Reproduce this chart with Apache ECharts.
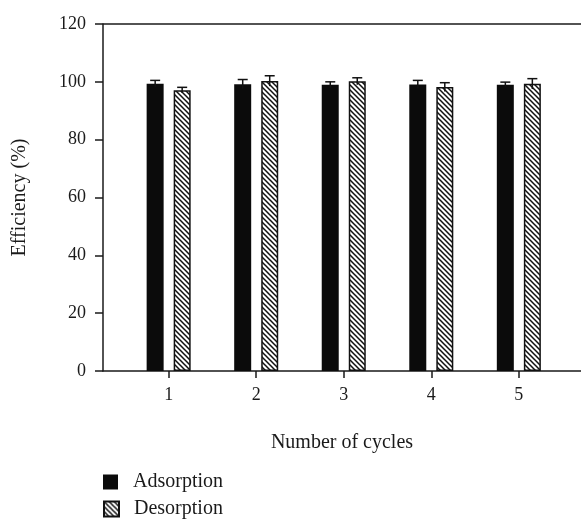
<!DOCTYPE html>
<html>
<head>
<meta charset="utf-8">
<script src="https://cdn.jsdelivr.net/npm/echarts@6/dist/echarts.min.js"></script>
<style>
  html, body { margin: 0; padding: 0; background: #fff; }
  #chart { width: 581px; height: 519px; }
</style>
</head>
<body>
<div id="chart"></div>
<script>
  // data
  var cycles = [1, 2, 3, 4, 5]
  var adsorption = [99.3, 99.2, 99.0, 99.1, 99.0]
  var adsorptionErr = [1.2, 1.6, 1.0, 1.4, 0.9]
  var desorption = [97.1, 100.3, 100.2, 98.2, 99.3]
  var desorptionErr = [1.0, 1.8, 1.2, 1.5, 1.8]
  var yTicks = [0, 20, 40, 60, 80, 100, 120]

  var serif = '"Liberation Serif", "DejaVu Serif", serif'
  var ink = '#1a1a1a'

  // diagonal hatch for the desorption bars
  function hatch() {
    var s = 5
    var c = document.createElement('canvas')
    c.width = s
    c.height = s
    var ctx = c.getContext('2d')
    ctx.fillStyle = '#fff'
    ctx.fillRect(0, 0, s, s)
    ctx.strokeStyle = '#111'
    ctx.lineWidth = 1.5
    ctx.beginPath()
    ctx.moveTo(-1, -1); ctx.lineTo(s + 1, s + 1)
    ctx.moveTo(-1, s - 1); ctx.lineTo(1, s + 1)
    ctx.moveTo(s - 1, -1); ctx.lineTo(s + 1, 1)
    ctx.stroke()
    return c
  }

  function errorSeries(values, errs, shift) {
    return {
      type: 'custom',
      silent: true,
      z: 5,
      data: cycles.map(function (c, i) { return [c, values[i], errs[i]] }),
      renderItem: function (params, api) {
        var x = api.value(0), v = api.value(1), e = api.value(2)
        var hi = api.coord([x, v + e])
        var lo = api.coord([x, v - e])
        var px = hi[0] + shift
        var style = { stroke: '#111', lineWidth: 1.5, fill: null }
        return {
          type: 'group',
          children: [
            { type: 'line', shape: { x1: px, y1: hi[1], x2: px, y2: lo[1] }, style: style },
            { type: 'line', shape: { x1: px - 5, y1: hi[1], x2: px + 5, y2: hi[1] }, style: style }
          ]
        }
      }
    }
  }

  var chart = echarts.init(document.getElementById('chart'))
  var hatchFill = { image: hatch(), repeat: 'repeat' }

  var legendBase = {
    orient: 'vertical',
    left: 103,
    padding: 0,
    itemWidth: 15,
    itemHeight: 15,
    icon: 'rect',
    textStyle: { fontFamily: serif, fontSize: 20, color: ink, padding: [0, 0, 0, 10] }
  }

  chart.setOption({
    animation: false,
    grid: { left: 103, right: 0, top: 24, bottom: 148 },
    legend: [
      Object.assign({}, legendBase, { top: 472, data: ['Adsorption'] }),
      Object.assign({}, legendBase, { top: 499, data: ['Desorption'] })
    ],
    xAxis: {
      type: 'value',
      min: 0.25,
      max: 5.71,
      name: 'Number of cycles',
      nameLocation: 'middle',
      nameGap: 62,
      nameTextStyle: { fontFamily: serif, fontSize: 20, color: ink },
      axisLine: { show: true, onZero: false, lineStyle: { color: ink, width: 1.5 } },
      axisTick: { show: true, length: 7, customValues: cycles, lineStyle: { color: ink, width: 1.5 } },
      axisLabel: { customValues: cycles, margin: 15, fontFamily: serif, fontSize: 18, color: ink },
      splitLine: { show: false }
    },
    yAxis: {
      type: 'value',
      min: 0,
      max: 120,
      interval: 20,
      name: 'Efficiency (%)',
      nameLocation: 'middle',
      nameGap: 73,
      nameTextStyle: { fontFamily: serif, fontSize: 20, color: ink },
      axisLine: { show: true, lineStyle: { color: ink, width: 1.5 } },
      axisTick: { show: true, length: 8, lineStyle: { color: ink, width: 1.5 } },
      axisLabel: {
        margin: 17, fontFamily: serif, fontSize: 18, color: ink,
        formatter: function (v) { return yTicks.indexOf(v) >= 0 ? String(v) : '' }
      },
      // only the line at 120 is drawn, as the frame top
      splitLine: {
        show: true,
        lineStyle: {
          width: 1.5,
          color: ['rgba(0,0,0,0)', 'rgba(0,0,0,0)', 'rgba(0,0,0,0)', 'rgba(0,0,0,0)',
            'rgba(0,0,0,0)', 'rgba(0,0,0,0)', ink]
        }
      }
    },
    series: [{
      name: 'Adsorption',
      type: 'bar',
      barWidth: 17,
      barGap: '59%',
      itemStyle: { color: '#0b0b0b' },
      data: cycles.map(function (c, i) { return [c, adsorption[i]] })
    }, {
      name: 'Desorption',
      type: 'bar',
      barWidth: 17,
      barGap: '59%',
      itemStyle: { color: hatchFill, borderColor: '#111', borderWidth: 1.5 },
      data: cycles.map(function (c, i) { return [c, desorption[i]] })
    },
    errorSeries(adsorption, adsorptionErr, -13.5),
    errorSeries(desorption, desorptionErr, 13.5)]
  })
</script>
</body>
</html>
